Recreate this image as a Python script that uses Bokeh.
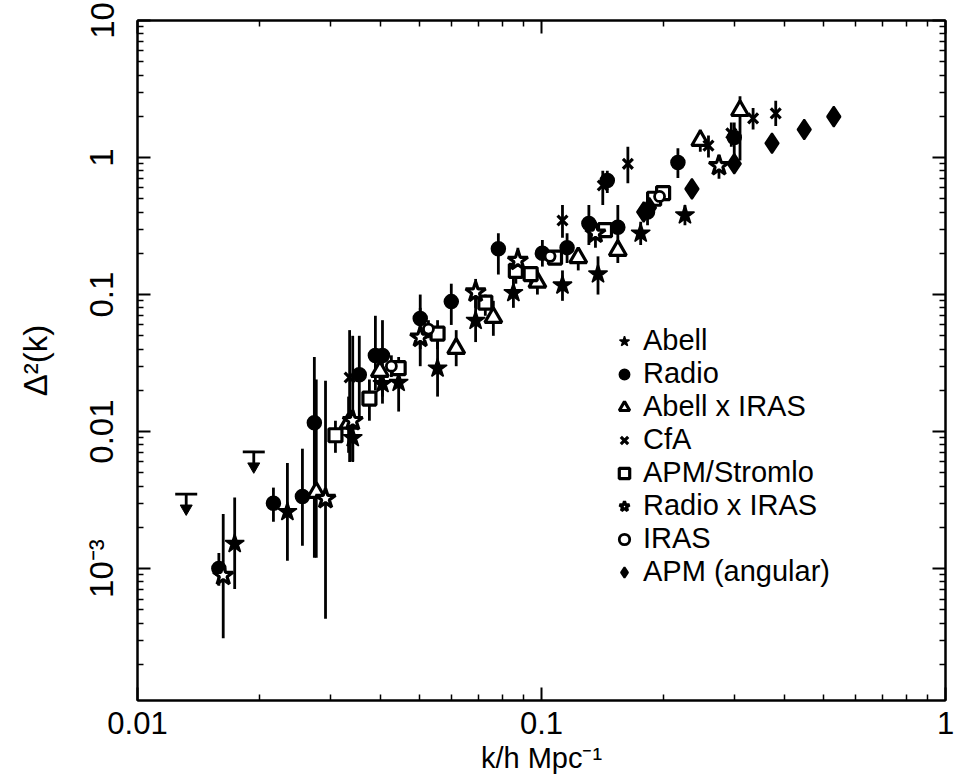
from bokeh.plotting import figure
from bokeh.models import (FixedTicker, Legend, LegendItem, LogAxis, Range1d,
                          CustomJSTickFormatter)
from bokeh.embed import file_html
from bokeh.resources import INLINE

FONT = "Liberation Sans"

# ---------------- data (k in h/Mpc, Delta^2, lower, upper) ----------------
abell_k = [0.0174, 0.0235, 0.0341, 0.0404, 0.0443, 0.0553, 0.0687, 0.0852, 0.1127, 0.138, 0.176, 0.2265]
abell_d = [1.52e-3, 2.6e-3, 0.0090, 0.0223, 0.0228, 0.029, 0.0646, 0.103, 0.117, 0.141, 0.28, 0.38]
abell_lo = [7.1e-4, 1.14e-3, 0.0061, 0.016, 0.014, 0.018, 0.045, 0.08, 0.09, 0.10, 0.23, 0.32]
abell_hi = [3.3e-3, 5.9e-3, 0.0125, 0.030, 0.030, 0.045, 0.10, 0.13, 0.15, 0.19, 0.34, 0.45]

radio_k = [0.0159, 0.0217, 0.0256, 0.0274, 0.0354, 0.0388, 0.0404, 0.0501, 0.0598, 0.0782, 0.1005,
           0.1157, 0.131, 0.1455, 0.1545, 0.183, 0.2176, 0.30]
radio_d = [1.0e-3, 3.0e-3, 3.36e-3, 0.0116, 0.026, 0.0359, 0.0359, 0.0668, 0.0888, 0.216, 0.20,
           0.22, 0.33, 0.68, 0.31, 0.40, 0.92, 1.4]
radio_lo = [7.5e-4, 2.2e-3, 1.47e-3, 1.2e-3, 0.012, 0.020, 0.018, 0.040, 0.060, 0.14, 0.16,
            0.17, 0.23, 0.55, 0.23, 0.32, 0.71, 0.9]
radio_hi = [1.3e-3, 3.9e-3, 7.5e-3, 0.035, 0.050, 0.070, 0.065, 0.10, 0.12, 0.28, 0.25,
            0.28, 0.45, 0.80, 0.45, 0.50, 1.17, 1.8]

axi_k = [0.0277, 0.0333, 0.0398, 0.0615, 0.0760, 0.0977, 0.1233, 0.1545, 0.2472, 0.31]
axi_d = [3.6e-3, 0.0115, 0.0275, 0.0404, 0.068, 0.123, 0.186, 0.21, 1.33, 2.2]
axi_lo = [1.2e-3, 0.007, 0.020, 0.030, 0.050, 0.10, 0.15, 0.17, 1.1, 0.95]
axi_hi = [0.024, 0.018, 0.035, 0.055, 0.090, 0.15, 0.22, 0.25, 1.6, 2.8]

cfa_k = [0.0335, 0.1127, 0.1418, 0.1636, 0.259, 0.295, 0.334, 0.38]
cfa_d = [0.0248, 0.347, 0.625, 0.90, 1.22, 1.5, 1.93, 2.1]
cfa_lo = [0.006, 0.26, 0.45, 0.65, 1.0, 1.2, 1.6, 1.7]
cfa_hi = [0.055, 0.45, 0.80, 1.2, 1.45, 1.8, 2.3, 2.6]

apms_k = [0.0309, 0.0375, 0.0443, 0.0553, 0.0726, 0.0864, 0.094, 0.108, 0.1436, 0.19, 0.20]
apms_d = [0.0094, 0.0174, 0.029, 0.0519, 0.0874, 0.149, 0.141, 0.186, 0.295, 0.50, 0.55]
apms_lo = [0.007, 0.012, 0.024, 0.040, 0.070, 0.12, 0.12, 0.17, 0.27, 0.47, 0.52]
apms_hi = [0.012, 0.024, 0.035, 0.065, 0.10, 0.17, 0.16, 0.20, 0.32, 0.53, 0.58]

rxi_k = [0.0163, 0.0292, 0.0341, 0.0501, 0.0687, 0.0874, 0.136, 0.275]
rxi_d = [8.9e-4, 3.24e-3, 0.012, 0.0487, 0.104, 0.177, 0.28, 0.87]
rxi_lo = [3.1e-4, 4.3e-4, 0.006, 0.030, 0.080, 0.14, 0.22, 0.70]
rxi_hi = [2.5e-3, 0.0235, 0.050, 0.080, 0.13, 0.22, 0.34, 1.05]

iras_k = [0.0425, 0.0525, 0.105, 0.196]
iras_d = [0.030, 0.056, 0.19, 0.52]
iras_lo = [0.025, 0.048, 0.17, 0.48]
iras_hi = [0.036, 0.065, 0.21, 0.56]

apma_k = [0.179, 0.185, 0.2357, 0.30, 0.372, 0.447, 0.529]
apma_d = [0.40, 0.43, 0.59, 0.90, 1.27, 1.6, 1.99]

upper_k = [0.0132, 0.0194]
upper_d = [3.5e-3, 7.1e-3]

x_ticks = [0.01, 0.1, 1]
x_labels = ["0.01", "0.1", "1"]
y_ticks = [0.001, 0.01, 0.1, 1, 10]
y_labels = ["10\u207b\u00b3", "0.01", "0.1", "1", "10"]

# minor ticks at 2..9 times each decade
def minor_ticks(decades):
    return [m * d for d in decades for m in range(2, 10)]

x_minor = minor_ticks([0.01, 0.1])
y_minor = minor_ticks([1e-4, 1e-3, 0.01, 0.1, 1])

# ---------------- figure ----------------
p = figure(frame_width=808, frame_height=680,
           x_axis_type="log", y_axis_type="log",
           x_range=Range1d(0.01, 1), y_range=Range1d(1.09e-4, 10),
           output_backend="svg", toolbar_location=None,
           min_border_left=137, min_border_right=20, min_border_top=20, min_border_bottom=76)
p.grid.visible = False
p.outline_line_color = "black"
p.outline_line_width = 2
p.background_fill_color = "white"
p.border_fill_color = "white"

def style_axis(ax, ticks, minor):
    ax.ticker = FixedTicker(ticks=ticks, minor_ticks=minor)
    ax.axis_line_width = 2
    ax.major_tick_in = 13
    ax.major_tick_out = 0
    ax.minor_tick_in = 6
    ax.minor_tick_out = 0
    ax.major_tick_line_width = 2
    ax.minor_tick_line_width = 1.5
    ax.major_label_text_font = FONT
    ax.major_label_text_color = "black"
    ax.axis_label_text_font = FONT
    ax.axis_label_text_font_style = "normal"
    ax.axis_label_text_color = "black"

style_axis(p.xaxis[0], x_ticks, x_minor)
style_axis(p.yaxis[0], y_ticks, y_minor)
p.xaxis.major_label_overrides = dict(zip(x_ticks, x_labels))
p.yaxis.major_label_overrides = dict(zip(y_ticks, y_labels))
p.xaxis.major_label_text_font_size = "31px"
p.yaxis.major_label_text_font_size = "33px"
p.yaxis.major_label_orientation = "vertical"
p.xaxis.major_label_standoff = 11
p.yaxis.major_label_standoff = 17
p.xaxis.axis_label = "k/h Mpc\u207b\u00b9"
p.yaxis.axis_label = "\u0394\u00b2(k)"
p.xaxis.axis_label_text_font_size = "29px"
p.yaxis.axis_label_text_font_size = "33px"
p.xaxis.axis_label_standoff = 5
p.yaxis.axis_label_standoff = 27

blank = CustomJSTickFormatter(code="return ''")
top = LogAxis(formatter=blank)
right = LogAxis(formatter=blank)
style_axis(top, x_ticks, x_minor)
style_axis(right, y_ticks, y_minor)
top.major_label_standoff = 0
right.major_label_standoff = 0
p.add_layout(top, "above")
p.add_layout(right, "right")

LW = 2.8

def errbars(k, lo, hi):
    p.segment(x0=k, y0=lo, x1=k, y1=hi, line_color="black", line_width=LW)

errbars(abell_k, abell_lo, abell_hi)
errbars(radio_k, radio_lo, radio_hi)
errbars(axi_k, axi_lo, axi_hi)
errbars(cfa_k, cfa_lo, cfa_hi)
errbars(apms_k, apms_lo, apms_hi)
errbars(rxi_k, rxi_lo, rxi_hi)
errbars(iras_k, iras_lo, iras_hi)

# upper limits: bar, shaft and arrow head
TIP = 0.74
p.scatter(upper_k, upper_d, marker="dash", size=22, line_color="black", line_width=LW)
p.segment(x0=upper_k, y0=upper_d, x1=upper_k, y1=[d * TIP for d in upper_d],
          line_color="black", line_width=LW)
p.scatter(upper_k, [d * TIP * 1.06 for d in upper_d], marker="inverted_triangle", size=12,
          fill_color="black", line_color="black", line_width=1)

r_abell = p.scatter(abell_k, abell_d, marker="star", size=20, fill_color="black",
                    line_color="black", line_width=1.5)
r_radio = p.scatter(radio_k, radio_d, marker="circle", size=14, fill_color="black",
                    line_color="black", line_width=1.5)
r_axi = p.scatter(axi_k, axi_d, marker="triangle", size=17, fill_color="white",
                  line_color="black", line_width=3.2)
r_cfa = p.scatter(cfa_k, cfa_d, marker="x", size=14, line_color="black", line_width=3.2)
r_apms = p.scatter(apms_k, apms_d, marker="square", size=13, fill_color="white",
                   line_color="black", line_width=3.2)
r_rxi = p.scatter(rxi_k, rxi_d, marker="star", size=21, fill_color="white",
                  line_color="black", line_width=3.2)
r_iras = p.scatter(iras_k, iras_d, marker="circle", size=10, fill_color="white",
                   line_color="black", line_width=2.8)
r_apma = p.scatter(apma_k, apma_d, marker="diamond", size=20, fill_color="black",
                   line_color="black", line_width=2)

legend = Legend(items=[
    LegendItem(label="Abell", renderers=[r_abell]),
    LegendItem(label="Radio", renderers=[r_radio]),
    LegendItem(label="Abell x IRAS", renderers=[r_axi]),
    LegendItem(label="CfA", renderers=[r_cfa]),
    LegendItem(label="APM/Stromlo", renderers=[r_apms]),
    LegendItem(label="Radio x IRAS", renderers=[r_rxi]),
    LegendItem(label="IRAS", renderers=[r_iras]),
    LegendItem(label="APM (angular)", renderers=[r_apma]),
], location=(472, 110))
legend.label_text_font = FONT
legend.label_text_font_size = "29px"
legend.label_text_color = "black"
legend.spacing = 0
legend.padding = 2
legend.margin = 0
legend.glyph_width = 26
legend.glyph_height = 26
legend.label_height = 26
legend.label_standoff = 6
legend.border_line_alpha = 0
legend.background_fill_alpha = 0
p.add_layout(legend, "center")

open("out.html", "w").write(file_html(p, INLINE))
